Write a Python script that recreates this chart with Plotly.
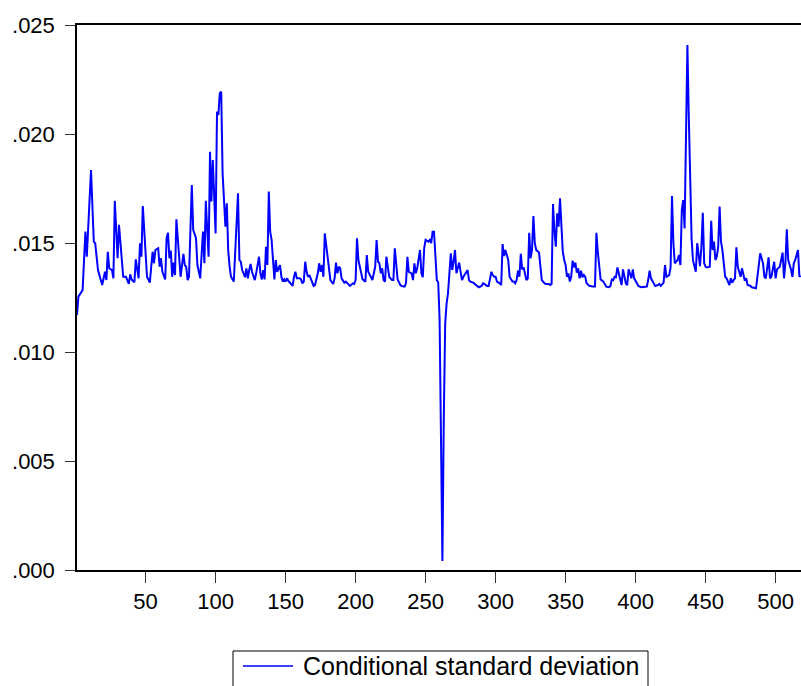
import plotly.graph_objects as go

# Observation index and GARCH conditional standard deviation
obs = [
    1, 2, 5, 7, 8, 11, 13, 14, 16, 19, 21, 22, 23, 24, 26, 27, 28, 30, 31, 33,
    34, 36, 37, 38, 39, 40, 41, 42, 43, 45, 46, 47, 48, 50, 51, 53, 55, 56, 57, 59,
    60, 61, 62, 64, 65, 66, 67, 68, 69, 70, 71, 72, 74, 75, 77, 78, 79, 80, 81, 83,
    84, 86, 87, 89, 91, 92, 93, 95, 96, 97, 98, 99, 100, 101, 102, 103, 104, 105, 107, 108,
    109, 110, 111, 113, 114, 116, 117, 118, 119, 121, 122, 123, 124, 125, 126, 128, 129, 131, 132, 133,
    134, 135, 136, 137, 138, 139, 140, 141, 142, 143, 144, 146, 147, 148, 149, 150, 151, 152, 154, 155,
    156, 157, 158, 160, 161, 162, 163, 164, 165, 166, 167, 169, 170, 171, 173, 174, 175, 176, 177, 178,
    180, 181, 182, 184, 185, 186, 187, 188, 189, 190, 192, 193, 195, 196, 198, 199, 200, 201, 202, 204,
    205, 207, 208, 209, 211, 212, 214, 215, 216, 217, 218, 219, 220, 221, 222, 223, 224, 226, 227, 228,
    229, 230, 232, 233, 235, 236, 237, 238, 240, 241, 242, 243, 244, 246, 247, 248, 249, 250, 252, 253,
    254, 255, 256, 257, 258, 259, 260, 261, 262, 263, 264, 265, 266, 268, 269, 270, 271, 272, 273, 274,
    275, 276, 277, 279, 280, 281, 282, 284, 285, 287, 288, 290, 291, 292, 294, 295, 297, 298, 299, 300,
    301, 303, 304, 305, 306, 307, 309, 310, 312, 313, 314, 315, 316, 317, 318, 319, 320, 322, 323, 324,
    325, 326, 327, 328, 329, 331, 332, 333, 335, 336, 338, 339, 340, 341, 342, 343, 344, 345, 346, 347,
    348, 349, 350, 351, 352, 353, 354, 355, 356, 357, 358, 359, 360, 361, 362, 363, 364, 365, 367, 368,
    369, 371, 372, 373, 374, 375, 377, 378, 379, 381, 382, 383, 384, 385, 386, 387, 388, 389, 390, 391,
    392, 393, 394, 395, 397, 398, 399, 401, 402, 404, 406, 408, 409, 410, 411, 413, 414, 416, 417, 418,
    420, 421, 422, 424, 425, 426, 427, 428, 430, 431, 432, 433, 434, 435, 436, 437, 438, 439, 440, 441,
    443, 444, 445, 446, 447, 448, 449, 450, 451, 453, 454, 455, 456, 457, 458, 459, 460, 461, 462, 464,
    465, 467, 468, 469, 470, 471, 472, 473, 475, 476, 478, 479, 480, 482, 483, 486, 487, 489, 491, 492,
    493, 495, 496, 497, 499, 500, 501, 503, 505, 506, 507, 508, 509, 511, 512, 513, 514, 516, 517, 518,
]

cond_sd = [
    .01170, .01254, .01284, .01552, .01437, .01835, .01506, .01499, .01376, .01307,
    .01368, .01330, .01460, .01384, .01376, .01338, .01694, .01430, .01583, .01391,
    .01345, .01345, .01330, .01312, .01356, .01333, .01326, .01320, .01425, .01338,
    .01499, .01437, .01670, .01407, .01345, .01318, .01460, .01407, .01468, .01476,
    .01391, .01430, .01368, .01333, .01522, .01547, .01430, .01465, .01345, .01410,
    .01353, .01609, .01422, .01345, .01450, .01399, .01391, .01330, .01345, .01766,
    .01560, .01522, .01399, .01338, .01552, .01407, .01694, .01437, .01919, .01690,
    .01881, .01682, .01544, .02102, .02087, .02187, .02194, .01820, .01575, .01682,
    .01468, .01391, .01345, .01323, .01453, .01728, .01422, .01414, .01376, .01343,
    .01384, .01338, .01376, .01404, .01368, .01330, .01361, .01437, .01361, .01333,
    .01376, .01333, .01483, .01399, .01736, .01552, .01514, .01391, .01333, .01422,
    .01368, .01399, .01345, .01323, .01333, .01323, .01338, .01326, .01307, .01303,
    .01345, .01368, .01338, .01338, .01333, .01315, .01323, .01414, .01368, .01345,
    .01353, .01318, .01303, .01307, .01361, .01407, .01368, .01399, .01345, .01544,
    .01437, .01391, .01330, .01312, .01338, .01410, .01361, .01391, .01384, .01338,
    .01318, .01323, .01307, .01303, .01315, .01312, .01330, .01522, .01422, .01368,
    .01333, .01323, .01445, .01368, .01338, .01330, .01391, .01514, .01414, .01407,
    .01361, .01384, .01330, .01323, .01437, .01384, .01345, .01330, .01330, .01476,
    .01414, .01333, .01307, .01303, .01300, .01315, .01437, .01368, .01361, .01330,
    .01407, .01361, .01384, .01468, .01361, .01343, .01476, .01514, .01506, .01514,
    .01499, .01552, .01552, .01407, .01330, .01320, .01150, .00600, .00041, .00700,
    .01130, .01223, .01269, .01453, .01376, .01414, .01468, .01361, .01384, .01410,
    .01368, .01330, .01345, .01368, .01376, .01330, .01323, .01318, .01312, .01303,
    .01297, .01303, .01315, .01312, .01303, .01303, .01368, .01353, .01345, .01345,
    .01323, .01315, .01307, .01495, .01440, .01468, .01422, .01345, .01323, .01323,
    .01315, .01330, .01373, .01345, .01450, .01379, .01388, .01330, .01338, .01547,
    .01430, .01468, .01624, .01499, .01468, .01456, .01376, .01330, .01315, .01312,
    .01312, .01307, .01312, .01679, .01560, .01483, .01636, .01575, .01705, .01544,
    .01460, .01422, .01399, .01345, .01361, .01323, .01345, .01419, .01388, .01410,
    .01364, .01384, .01338, .01373, .01343, .01353, .01345, .01315, .01303, .01303,
    .01300, .01300, .01547, .01460, .01407, .01333, .01323, .01307, .01300, .01297,
    .01303, .01333, .01330, .01345, .01343, .01388, .01361, .01330, .01307, .01379,
    .01345, .01315, .01307, .01379, .01338, .01379, .01338, .01318, .01303, .01297,
    .01297, .01300, .01330, .01373, .01338, .01312, .01303, .01307, .01312, .01303,
    .01318, .01399, .01345, .01353, .01388, .01716, .01499, .01407, .01422, .01445,
    .01399, .01651, .01697, .01567, .02125, .02408, .02079, .01758, .01518, .01420,
    .01368, .01499, .01430, .01394, .01483, .01639, .01407, .01391, .01388, .01391,
    .01602, .01468, .01506, .01422, .01437, .01483, .01667, .01506, .01468, .01345,
    .01338, .01307, .01338, .01318, .01330, .01338, .01480, .01391, .01345, .01384,
    .01327, .01338, .01307, .01303, .01297, .01292, .01345, .01453, .01407, .01345,
    .01338, .01434, .01338, .01345, .01414, .01338, .01379, .01391, .01456, .01338,
    .01407, .01563, .01422, .01379, .01345, .01407, .01422, .01468, .01345, .01350,
]

x_ticks = [50, 100, 150, 200, 250, 300, 350, 400, 450, 500]
y_ticks = [0.000, 0.005, 0.010, 0.015, 0.020, 0.025]
y_labels = [".000", ".005", ".010", ".015", ".020", ".025"]
series_name = "Conditional standard deviation"

W, H = 801, 686
ML, MR, MT, MB = 77, 0, 25, 116
PW, PH = W - ML - MR, H - MT - MB
LINE_BLUE = "#0000FF"
FONT = "Liberation Sans, Arial, sans-serif"


def px_x(p):
    return (p - ML) / PW


def px_y(p):
    return (H - MB - p) / PH


fig = go.Figure()
fig.add_trace(go.Scatter(
    x=obs, y=cond_sd, mode="lines", name=series_name,
    line=dict(color=LINE_BLUE, width=2), showlegend=False,
))

axis_common = dict(
    showgrid=False, zeroline=False, showline=True, linecolor="black",
    linewidth=1.5, ticks="outside", tickcolor="#333333", tickwidth=1,
    tickfont=dict(family=FONT, size=22, color="black"),
)

fig.update_xaxes(
    range=[1, 1 + PW / 1.4], tickmode="array", tickvals=x_ticks,
    ticklen=11, mirror=True, **axis_common,
)
fig.update_yaxes(
    range=[0, 0.025], tickmode="array", tickvals=y_ticks, ticktext=y_labels,
    ticklen=10, ticklabelstandoff=6, **axis_common,
)

# Legend box drawn below the plot area (its lower edge runs past the page)
box_l, box_r, box_t, box_b = 233, 648, 651, 700
legend_y = 666
fig.add_shape(type="rect", xref="paper", yref="paper",
              x0=px_x(box_l), x1=px_x(box_r), y0=px_y(box_b), y1=px_y(box_t),
              line=dict(color="black", width=1), fillcolor="white", layer="above")
fig.add_shape(type="line", xref="paper", yref="paper",
              x0=px_x(243), x1=px_x(293), y0=px_y(legend_y), y1=px_y(legend_y),
              line=dict(color=LINE_BLUE, width=1.5))
fig.add_annotation(xref="paper", yref="paper", x=px_x(301), y=px_y(legend_y),
                   text=series_name, showarrow=False, xanchor="left",
                   yanchor="middle", font=dict(family=FONT, size=25, color="black"))

fig.update_layout(
    width=W, height=H, margin=dict(l=ML, r=MR, t=MT, b=MB, pad=0),
    paper_bgcolor="white", plot_bgcolor="white",
)

fig.write_html("out.html")
